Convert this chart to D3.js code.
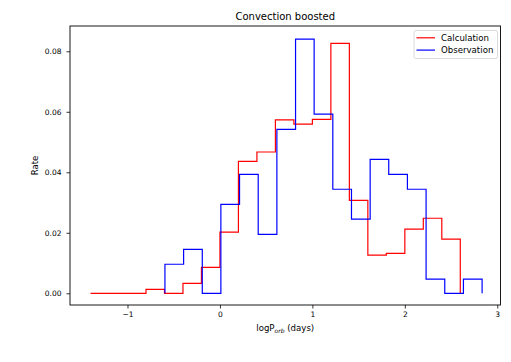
<!DOCTYPE html>
<html>
<head>
<meta charset="utf-8">
<script src="https://cdn.jsdelivr.net/npm/d3@7"></script>
<style>
  body { margin: 0; background: #fff; }
  svg { display: block; font-family: "DejaVu Sans", sans-serif; }
  .axis path { display: none; }
  .axis line { stroke: #000; stroke-width: 0.8; }
  .axis text { fill: #000; font-size: 7.5px; font-family: "DejaVu Sans", sans-serif; }
</style>
</head>
<body>
<svg id="chart" width="511" height="362"></svg>
<script>
// bin edges (logP, days) and rates
const calcEdges = [-1.4, -1.2, -1.0, -0.8, -0.6, -0.4, -0.2, 0.0, 0.2, 0.4, 0.6,
  0.8, 1.0, 1.2, 1.4, 1.6, 1.8, 2.0, 2.2, 2.4, 2.6];
const calcRate = [0, 0, 0, 0.0013, 0, 0.0033, 0.0086, 0.0202, 0.0436, 0.0467,
  0.0573, 0.0559, 0.0575, 0.0826, 0.0307, 0.0126, 0.0132, 0.0212, 0.0248, 0.0179];

const obsEdges = [-0.595, -0.393, -0.191, 0.010, 0.212, 0.414, 0.616, 0.818, 1.019,
  1.221, 1.423, 1.625, 1.826, 2.028, 2.230, 2.432, 2.634, 2.836];
const obsRate = [0.0096, 0.0145, 0, 0.0294, 0.0393, 0.0195, 0.0542, 0.0840, 0.0592,
  0.0344, 0.0245, 0.0443, 0.0393, 0.0344, 0.0047, 0, 0.0047];

const xTicks = [-1, 0, 1, 2, 3];
const yTicks = [0, 0.02, 0.04, 0.06, 0.08];

const series = [
  { name: 'Calculation', color: '#ff0000', edges: calcEdges, rate: calcRate },
  { name: 'Observation', color: '#0000ff', edges: obsEdges, rate: obsRate }
];

const plot = { left: 70, right: 500.5, top: 26, bottom: 305 };

const x = d3.scaleLinear()
  .domain([-1.622, 3.035])
  .range([plot.left, plot.right]);
const y = d3.scaleLinear()
  .domain([-0.00387, 0.08836])
  .range([plot.bottom, plot.top]);

const svg = d3.select('#chart');

const stepPoints = (edges, rate) => {
  const pts = [[edges[0], 0]];
  rate.forEach((r, i) => {
    pts.push([edges[i], r]);
    pts.push([edges[i + 1], r]);
  });
  pts.push([edges[edges.length - 1], 0]);
  return pts;
};

const line = d3.line()
  .x(p => x(p[0]))
  .y(p => y(p[1]));

svg.append('g')
  .selectAll('path')
  .data(series)
  .enter().append('path')
    .attr('fill', 'none')
    .attr('stroke', s => s.color)
    .attr('stroke-width', 1.2)
    .attr('d', s => line(stepPoints(s.edges, s.rate)));

// axes
svg.append('g')
  .classed('x axis', true)
  .attr('transform', `translate(0,${plot.bottom})`)
  .call(d3.axisBottom(x)
    .tickValues(xTicks)
    .tickSize(3.5)
    .tickPadding(3)
    .tickFormat(d => d < 0 ? '\u2212' + Math.abs(d) : d));

svg.append('g')
  .classed('y axis', true)
  .attr('transform', `translate(${plot.left},0)`)
  .call(d3.axisLeft(y)
    .tickValues(yTicks)
    .tickSize(3.5)
    .tickPadding(5)
    .tickFormat(d3.format('.2f')));

svg.append('rect')
  .attr('x', plot.left)
  .attr('y', plot.top)
  .attr('width', plot.right - plot.left)
  .attr('height', plot.bottom - plot.top)
  .attr('fill', 'none')
  .attr('stroke', '#000')
  .attr('stroke-width', 0.9);

// title and labels
svg.append('text')
  .attr('x', (plot.left + plot.right) / 2)
  .attr('y', 19.5)
  .attr('text-anchor', 'middle')
  .style('font-size', '10px')
  .text('Convection boosted');

const xLabel = svg.append('text')
  .attr('x', (plot.left + plot.right) / 2)
  .attr('y', 331)
  .attr('text-anchor', 'middle')
  .style('font-size', '8.6px');
xLabel.append('tspan').text('logP');
xLabel.append('tspan')
  .attr('dy', 1.8)
  .style('font-size', '6px')
  .style('font-style', 'italic')
  .text('orb');
xLabel.append('tspan')
  .attr('dy', -1.8)
  .text(' (days)');

svg.append('text')
  .attr('transform', `translate(38,${(plot.top + plot.bottom) / 2}) rotate(-90)`)
  .attr('text-anchor', 'middle')
  .style('font-size', '8.6px')
  .text('Rate');

// legend
const legend = svg.append('g')
  .attr('transform', 'translate(414,30.5)');
legend.append('rect')
  .attr('width', 83.5)
  .attr('height', 28)
  .attr('rx', 2)
  .attr('fill', '#fff')
  .attr('fill-opacity', 0.8)
  .attr('stroke', '#d0d0d0')
  .attr('stroke-width', 0.8);
const items = legend.selectAll('g.item')
  .data(series)
  .enter().append('g')
    .classed('item', true)
    .attr('transform', (s, i) => `translate(0,${7.3 + i * 12.3})`);
items.append('line')
  .attr('x1', 2.5)
  .attr('x2', 21)
  .attr('stroke', s => s.color)
  .attr('stroke-width', 1.2);
items.append('text')
  .attr('x', 27)
  .attr('dy', '0.35em')
  .style('font-size', '8.6px')
  .text(s => s.name);
</script>
</body>
</html>
